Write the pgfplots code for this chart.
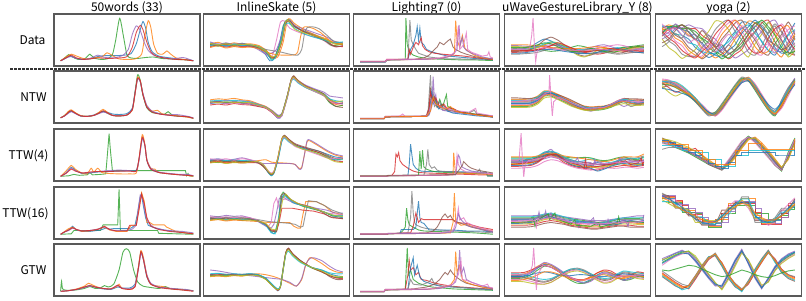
\documentclass[border=0pt]{standalone}
\usepackage{pgfplots}
\pgfplotsset{compat=1.18}
\usepackage{pgfplotstable}
\usepackage{fontspec}
\setmainfont{Noto Sans CJK JP}
\definecolor{tb}{HTML}{1F77B4}
\definecolor{to}{HTML}{FF7F0E}
\definecolor{tg}{HTML}{2CA02C}
\definecolor{tr}{HTML}{D62728}
\definecolor{tp}{HTML}{9467BD}
\definecolor{tbr}{HTML}{8C564B}
\definecolor{tk}{HTML}{E377C2}
\definecolor{tgr}{HTML}{7F7F7F}
\definecolor{tol}{HTML}{BCBD22}
\definecolor{tc}{HTML}{17BECF}
\pgfplotscreateplotcyclelist{tab}{{tb},{to},{tg},{tr},{tp},{tbr},{tk},{tgr},{tol},{tc}}
\pgfplotsset{panel/.style={width=146pt,height=52pt,scale only axis,anchor=north west,
  xmin=-5,xmax=105,ymin=-5,ymax=105,xtick=\empty,ytick=\empty,
  axis line style={black!65,line width=1.3pt},
  cycle list name=tab,
  every axis plot/.append style={line width=1.4pt,opacity=0.8,mark=none}},
  sm/.style={every axis plot/.append style={smooth,tension=0.4}},
  thin/.style={every axis plot/.append style={line width=0.9pt}},
  dense/.style={every axis plot/.append style={line width=1.3pt,opacity=0.8}}}

% ---------- uWaveGestureLibrary_Y tables ----------
\pgfplotstableread[header=false,row sep=\\]{
x 0 5 10 15 20 25 30 35 40 45 50 55 60 65 70 75 80 85 90 95 100\\
a 30 31 32 36 45 52 48 40 32 25 22 24 26 30 28 26 30 34 36 33 34\\
b 28 28 29 30 34 40 44 42 36 30 26 25 28 32 34 30 27 28 30 32 30\\
c 34 34 33 32 30 28 26 27 30 34 38 36 32 28 26 28 32 35 36 38 40\\
d 24 24 25 27 30 34 38 40 38 33 28 24 22 20 22 26 28 26 24 25 26\\
e 38 38 37 36 36 38 40 38 34 30 28 30 34 38 40 36 32 30 32 36 38\\
f 26 26 27 30 38 50 56 50 40 30 20 16 18 24 28 26 22 24 28 30 28\\
g 32 32 33 34 35 36 34 30 28 26 24 26 30 34 36 38 40 38 34 32 33\\
h 20 20 21 22 24 28 32 34 32 28 24 22 20 22 24 22 20 21 23 24 22\\
i 36 36 35 34 34 40 46 44 38 28 18 14 20 28 32 30 26 28 32 34 36\\
j 29 29 30 32 36 42 46 42 36 32 30 30 31 30 28 30 34 30 28 30 31\\
k 22 22 23 25 28 30 30 28 26 24 22 21 22 24 27 30 32 30 26 24 24\\
l 40 40 40 39 38 36 34 33 32 32 32 33 35 36 34 32 30 32 34 36 37\\
m 33 33 34 36 40 44 42 36 30 26 26 28 32 30 26 24 26 30 34 36 35\\
n 27 27 28 28 29 32 38 44 40 34 28 26 26 28 30 32 30 28 27 28 29\\
}\rawUa
\pgfplotstabletranspose[colnames from=0,input colnames to=]{\tUa}{\rawUa}
\pgfplotstableread[header=false,row sep=\\]{
x 0 5 10 15 20 25 30 35 40 45 50 55 60 65 70 75 80 85 90 95 100\\
a 37 37 37 38 45 58 57 51 44 37 31 27 26 27 28 32 40 44 40 38 39\\
b 45 45 45 46 52 63 62 56 49 42 36 31 29 30 31 35 42 46 44 43 44\\
c 30 30 30 31 38 52 52 46 40 33 27 23 22 22 24 28 35 40 36 34 35\\
d 41 41 41 42 48 60 60 54 47 40 33 28 26 25 27 31 38 42 42 44 42\\
e 33 33 33 34 41 55 54 48 42 34 28 24 20 24 26 30 36 30 36 35 36\\
f 48 48 47 47 50 56 58 55 50 44 37 30 28 29 30 34 41 47 46 46 45\\
g 35 35 35 36 42 54 56 50 43 36 30 26 25 26 28 33 42 46 36 38 40\\
h 39 39 39 40 47 60 59 52 45 38 32 27 25 24 26 30 38 40 30 34 37\\
i 28 28 28 29 35 48 50 45 38 31 26 22 21 23 25 29 33 36 33 32 33\\
j 43 43 43 44 50 62 60 53 46 39 33 29 27 28 29 33 41 45 43 41 42\\
k 36 36 36 37 43 56 58 52 44 36 30 25 23 25 30 34 40 43 38 36 38\\
l 32 32 32 33 39 53 55 50 43 35 28 24 23 25 27 31 37 41 37 35 36\\
}\rawUb
\pgfplotstabletranspose[colnames from=0,input colnames to=]{\tUb}{\rawUb}
\pgfplotstableread[header=false,row sep=\\]{
x 0 5 10 15 20 25 30 35 40 45 50 55 60 65 70 75 80 85 90 95 100\\
a 38 38 38 40 46 54 56 50 42 36 32 30 28 34 30 28 32 36 34 32 34\\
b 30 30 31 33 40 50 52 46 38 30 26 24 26 22 24 28 34 30 28 30 32\\
c 44 44 44 44 46 50 52 50 46 44 44 45 44 40 38 40 44 46 42 40 46\\
d 26 26 27 28 34 44 50 44 34 28 24 22 20 18 22 24 26 28 26 26 28\\
e 34 34 34 36 42 52 62 48 40 34 30 28 30 36 32 30 36 42 38 36 38\\
f 40 40 40 41 44 48 50 48 44 40 36 34 32 30 30 32 36 40 40 38 40\\
g 22 22 23 24 28 36 40 38 32 26 22 20 18 20 24 22 22 24 24 22 24\\
h 36 36 36 38 44 56 58 52 44 38 34 30 28 26 28 32 38 44 42 44 48\\
i 32 32 32 33 38 46 48 44 38 32 28 26 24 24 26 28 30 34 32 30 30\\
j 42 42 42 43 48 56 58 54 46 40 36 38 42 38 36 34 38 40 44 42 44\\
k 28 28 28 30 36 48 54 48 38 30 26 24 22 16 20 26 30 32 30 28 30\\
l 46 46 46 46 48 52 54 52 48 46 44 42 40 38 36 38 42 46 46 46 52\\
}\rawUc
\pgfplotstabletranspose[colnames from=0,input colnames to=]{\tUc}{\rawUc}
\pgfplotstableread[header=false,row sep=\\]{
x 0 5 10 15 20 25 30 35 40 45 50 55 60 65 70 75 80 85 90 95 100\\
a 36 36 36 37 40 44 42 38 36 34 32 30 28 26 28 30 32 34 33 32 34\\
b 30 30 30 31 34 38 40 36 32 28 26 24 22 24 26 26 28 30 30 28 28\\
c 40 40 40 40 42 46 48 44 40 38 36 34 32 30 30 32 36 38 38 38 40\\
d 24 24 24 25 28 32 34 32 28 24 22 20 18 18 20 22 24 24 24 22 22\\
e 44 44 44 44 45 46 46 44 42 40 38 36 34 34 34 36 38 40 42 44 44\\
f 20 20 20 21 24 28 30 28 26 22 20 18 16 16 18 20 22 22 20 20 20\\
g 33 33 33 34 38 42 44 40 35 31 28 27 25 24 25 28 30 32 32 31 31\\
h 38 38 38 38 40 44 46 42 38 36 34 32 32 30 32 34 36 36 36 36 37\\
i 27 27 27 28 31 36 38 34 30 27 24 22 21 21 22 24 26 27 27 26 26\\
j 42 42 42 42 44 48 50 46 42 38 34 30 28 28 30 34 38 40 40 40 40\\
k 28 28 29 30 34 40 42 38 34 30 30 32 30 28 26 24 26 30 34 32 30\\
}\rawUd
\pgfplotstabletranspose[colnames from=0,input colnames to=]{\tUd}{\rawUd}
\pgfplotstableread[header=false,row sep=\\]{
x 0 5 10 15 20 25 30 35 40 45 50 55 60 65 70 75 80 85 90 95 100\\
a 36 36 38 44 54 62 60 52 42 32 26 24 30 40 46 44 36 30 34 40 38\\
b 40 40 42 48 58 64 60 50 40 32 28 28 34 44 48 44 38 34 38 44 42\\
c 32 32 34 40 50 58 56 48 38 28 22 22 28 38 42 40 34 28 30 36 34\\
d 44 44 45 50 56 60 56 48 40 34 30 30 36 44 50 48 40 36 40 46 44\\
e 38 38 40 46 56 66 62 54 44 34 26 22 26 36 44 42 34 28 32 38 40\\
f 34 34 33 30 26 24 28 36 44 50 52 48 40 32 28 30 38 44 42 38 36\\
g 30 30 29 26 22 20 24 32 42 48 50 46 38 30 24 26 34 40 38 34 32\\
h 38 38 36 32 28 26 30 38 46 52 54 50 42 34 30 32 40 46 44 40 38\\
i 26 26 25 22 20 20 24 32 40 46 48 44 36 28 22 24 32 38 36 32 30\\
j 42 42 40 36 32 30 32 38 46 52 52 48 42 36 32 34 42 48 46 44 42\\
k 36 36 37 40 44 46 44 40 38 38 40 40 38 36 36 38 40 42 40 38 38\\
l 28 28 30 34 40 46 46 42 36 30 28 30 34 38 40 36 32 32 36 38 36\\
}\rawUe
\pgfplotstabletranspose[colnames from=0,input colnames to=]{\tUe}{\rawUe}

% ---------- yoga tables ----------
\pgfplotstableread[header=false,row sep=\\]{
x 0 5 10 15 20 25 30 35 40 45 50 55 60 65 70 75 80 85 90 95 100\\
a 80 78 74 60 52 34 24 13 20 30 52 68 88 86 72 46 28 18 42 62 86\\
b 74 82 76 74 60 52 34 24 12 20 30 52 68 90 86 72 46 28 14 42 62\\
c 70 76 82 74 74 60 52 34 24 10 20 30 52 70 86 88 72 46 28 18 38\\
d 58 74 76 82 74 74 60 50 34 24 10 20 30 54 68 86 92 68 50 24 18\\
e 52 60 74 76 82 76 74 60 52 34 24 12 20 30 52 68 86 92 68 50 24\\
f 76 74 60 52 34 24 10 20 30 52 68 86 92 68 50 26 18 42 62 88 62\\
g 70 64 48 38 20 15 16 34 48 72 86 92 68 50 24 18 38 66 84 66 38\\
h 64 48 38 20 15 16 34 48 72 86 92 68 50 24 18 38 66 84 66 38 18\\
i 52 34 24 11 20 30 52 68 90 88 72 46 28 14 42 62 88 62 42 14 28\\
j 66 74 62 60 44 40 26 22 22 36 46 64 74 82 64 48 28 24 36 60 72\\
k 78 78 78 72 68 52 44 26 18 14 28 40 64 78 92 78 60 34 22 26 54\\
l 72 70 54 46 28 18 12 28 38 62 78 92 78 60 36 22 26 54 74 80 50\\
m 64 78 78 82 74 68 54 44 26 18 12 26 38 62 78 92 78 60 34 22 26\\
n 68 54 44 28 18 12 26 38 62 78 92 78 60 34 22 26 54 74 80 50 30\\
o 60 66 84 70 58 62 40 30 44 28 40 58 76 64 80 66 44 30 26 46 70\\
p 44 52 70 82 66 50 70 54 36 40 20 30 44 62 86 74 50 40 30 36 58\\
q 84 70 76 60 44 52 30 44 24 46 62 54 80 70 56 34 42 22 56 72 80\\
r 36 46 64 54 76 60 44 60 38 22 40 26 36 50 66 82 64 80 48 30 44\\
}\rawYa
\pgfplotstabletranspose[colnames from=0,input colnames to=]{\tYa}{\rawYa}
\pgfplotstableread[header=false,row sep=\\]{
x 0 5 10 15 20 25 30 35 40 45 50 55 60 65 70 75 80 85 90 95 100\\
a 82 80 74 66 56 42 26 12 14 30 50 70 88 88 70 48 26 12 34 62 86\\
b 86 84 80 72 60 46 30 16 12 24 44 64 82 92 76 54 32 16 28 56 82\\
c 76 76 70 62 52 40 26 14 18 34 54 74 90 84 64 42 22 10 38 66 88\\
d 80 70 60 64 60 48 32 18 10 24 46 68 86 90 74 52 30 14 30 58 80\\
e 84 82 78 70 58 44 28 14 12 28 48 68 86 86 68 46 28 18 42 68 90\\
f 70 74 72 64 54 42 30 18 16 30 48 66 82 84 68 48 30 20 36 60 78\\
g 88 86 78 68 58 46 34 20 10 22 42 62 80 90 78 56 34 14 26 52 80\\
h 78 82 76 66 54 40 24 10 16 36 56 76 92 86 66 44 24 12 44 70 88\\
i 74 60 52 58 58 46 30 16 14 30 50 70 86 88 72 50 28 16 32 58 84\\
j 82 84 82 74 62 48 32 16 12 26 46 66 84 90 74 52 30 18 40 64 84\\
k 68 66 62 58 52 42 30 18 14 28 46 64 80 84 70 52 34 24 38 58 76\\
l 80 78 72 64 56 44 28 14 12 28 48 68 86 88 70 48 26 14 34 60 84\\
}\rawYb
\pgfplotstabletranspose[colnames from=0,input colnames to=]{\tYb}{\rawYb}
\pgfplotstableread[header=false,row sep=\\]{
x 0 5 10 15 20 25 30 35 40 45 50 55 60 65 70 75 80 85 90 95 100\\
a 80 76 70 64 58 52 44 36 28 22 34 52 72 88 82 68 52 34 18 48 82\\
b 84 80 74 68 64 58 50 40 30 24 28 44 64 82 88 76 60 42 24 40 76\\
c 76 72 66 60 54 46 38 30 24 20 38 58 78 90 78 62 46 28 16 56 86\\
d 82 78 72 66 60 64 50 34 26 24 30 48 68 86 84 72 56 38 22 44 80\\
e 78 74 68 62 56 50 42 34 26 22 36 54 74 88 80 66 50 32 20 50 84\\
f 70 70 66 60 60 56 56 40 40 26 26 48 48 60 60 60 60 60 60 60 78\\
g 86 80 72 64 56 50 42 30 24 18 32 50 70 86 86 70 54 36 18 46 80\\
h 74 72 68 64 58 50 40 32 26 22 40 60 80 88 76 60 44 28 18 52 82\\
i 80 76 70 64 56 48 40 32 26 22 34 50 56 56 56 56 56 50 50 50 80\\
j 62 66 66 62 56 48 40 32 24 18 30 48 68 86 84 70 54 36 20 44 78\\
k 84 82 78 72 66 58 48 38 28 24 30 46 66 84 86 72 56 40 24 42 76\\
l 78 72 72 72 60 60 40 40 30 30 30 60 60 74 74 62 62 62 62 62 84\\
}\rawYc
\pgfplotstabletranspose[colnames from=0,input colnames to=]{\tYc}{\rawYc}
\pgfplotstableread[header=false,row sep=\\]{
x 0 5 10 15 20 25 30 35 40 45 50 55 60 65 70 75 80 85 90 95 100\\
a 88 80 70 60 52 40 28 26 28 40 60 70 74 72 40 32 30 34 48 62 76\\
b 90 86 60 60 44 44 24 24 24 56 56 72 72 72 34 34 34 34 56 56 80\\
c 82 82 74 56 56 36 36 22 22 36 70 70 80 80 44 28 28 40 40 66 66\\
d 86 78 78 64 50 50 30 30 32 44 64 76 76 60 36 36 24 30 54 68 82\\
e 80 72 72 52 52 48 34 20 20 50 50 66 66 66 48 48 36 36 44 58 72\\
f 92 84 64 58 58 36 26 26 30 30 58 58 84 84 30 30 30 40 60 60 78\\
g 84 84 76 66 46 46 32 32 36 48 66 72 72 70 52 26 26 26 50 70 74\\
h 78 70 62 62 56 30 30 34 34 42 62 62 78 64 38 38 30 32 46 56 70\\
i 88 88 68 68 60 52 40 24 24 30 54 74 74 74 60 36 36 28 40 64 80\\
j 74 74 70 54 54 42 42 30 26 46 46 68 80 80 46 30 30 38 52 52 66\\
k 86 80 72 62 48 38 30 28 32 42 58 68 72 70 44 34 30 32 46 60 74\\
l 82 76 66 56 50 44 36 30 30 38 52 64 70 68 50 40 34 36 44 54 68\\
}\rawYd
\pgfplotstabletranspose[colnames from=0,input colnames to=]{\tYd}{\rawYd}
\pgfplotstableread[header=false,row sep=\\]{
x 0 5 10 15 20 25 30 35 40 45 50 55 60 65 70 75 80 85 90 95 100\\
a 70 78 85 90 88 72 54 36 18 14 40 68 92 66 36 12 30 54 70 80 88\\
g 40 30 20 12 14 34 56 76 84 62 36 18 6 24 48 70 90 70 48 36 30\\
b 66 74 82 88 90 76 58 40 22 10 34 62 90 70 40 14 26 50 68 78 86\\
h 44 34 24 16 10 30 52 72 82 66 40 20 8 20 44 66 88 74 52 40 34\\
c 74 80 86 92 84 68 50 32 16 18 44 72 94 62 32 10 34 58 74 84 90\\
i 36 26 16 10 18 38 60 78 80 58 32 14 6 28 52 74 92 68 44 32 26\\
d 60 70 78 84 86 74 56 38 20 12 36 64 88 68 38 16 28 52 66 76 84\\
j 48 38 28 20 16 32 54 74 86 64 38 22 10 22 46 68 86 72 50 40 36\\
e 72 76 82 86 90 80 60 42 24 8 30 58 86 72 44 18 24 48 64 74 82\\
k 38 28 18 8 12 36 58 78 82 60 34 16 4 26 50 72 90 66 46 34 28\\
f 64 72 80 86 84 70 52 34 20 16 42 70 90 64 34 12 32 56 72 82 88\\
l 42 32 22 14 16 36 58 76 84 64 38 20 8 24 46 68 88 70 50 38 32\\
m 50 48 52 56 60 58 52 46 40 36 38 44 50 46 40 36 34 38 44 48 50\\
}\rawYe
\pgfplotstabletranspose[colnames from=0,input colnames to=]{\tYe}{\rawYe}

\begin{document}
\begin{tikzpicture}
\path[use as bounding box] (0pt,0pt) rectangle (806pt,-300pt);
\def\ttl#1#2{\node[anchor=base,font=\fontsize{12}{14}\selectfont] at (#1pt,-11.5pt) {#2};}
\ttl{127}{50words (33)}
\ttl{276.5}{InlineSkate (5)}
\ttl{426.5}{Lighting7 (0)}
\ttl{577.5}{uWaveGestureLibrary\_Y (8)}
\ttl{728.5}{yoga (2)}
\def\rlb#1#2#3{\node[anchor=base,font=\fontsize{12}{14}\selectfont] at (#1pt,-#2pt) {#3};}
\rlb{32.5}{44.5}{Data}
\rlb{33.5}{101.5}{NTW}
\rlb{28.5}{159.5}{TTW(4)}
\rlb{25.5}{217.5}{TTW(16)}
\rlb{33.5}{274.5}{GTW}
\draw[black!80,line width=1.3pt,dash pattern=on 2.5pt off 1.5pt] (10pt,-69pt) -- (806pt,-69pt);

% ================= Column 1: 50words =================
\begin{axis}[panel,sm,at={(54pt,-14pt)}]
\addplot[tg] coordinates {(0,6)(3,12)(6,19)(9,14)(13,9)(18,10)(22,20)(25,12)(30,9)(35,10)(39,19)(41.5,50)(44.5,96)(47.5,55)(50,18)(53,12)(58,11)(64,13)(70,14)(76,11)(82,10)(88,9)(94,8)(100,6)};
\addplot[tb] coordinates {(0,6)(3,10)(7,16)(11,12)(16,9)(22,10)(28,15)(34,17)(42,17)(48,18)(53,21)(57,42)(60,72)(62,89)(64,76)(66,45)(69,25)(74,16)(80,13)(86,11)(92,9)(97,8)(100,6)};
\addplot[to] coordinates {(0,6)(4,14)(8,20)(12,16)(17,11)(22,10)(27,13)(31,14)(35,23)(39,17)(44,10)(50,9)(56,10)(61,20)(63.5,60)(66,91)(68,76)(70,42)(73,22)(77,20)(80,27)(83,20)(87,12)(92,9)(96,8)(100,6)};
\addplot[tp] coordinates {(0,6)(4,12)(8,15)(12,11)(17,9)(22,11)(28,18)(32,14)(37,12)(42,13)(47,18)(51,30)(54,62)(57,80)(60,70)(63,45)(66,28)(70,18)(76,13)(84,10)(92,13)(96,10)(100,6)};
\addplot[tr] coordinates {(0,6)(4,12)(8,18)(12,12)(17,9)(22,10)(28,12)(36,11)(44,12)(50,15)(54,35)(57,66)(60,81)(62,72)(65,45)(68,25)(72,16)(78,12)(86,9)(94,8)(100,6)};
\end{axis}
\begin{axis}[panel,sm,at={(54pt,-71pt)}]
\addplot[tg] coordinates {(0,6)(3,11)(6,19)(8,21)(11,16)(15,10)(20,9)(25,11)(29,16)(32,20)(35,16)(39,11)(44,10)(50,12)(54,24)(56,60)(58,97)(60,86)(62,55)(65,27)(69,17)(74,15)(78,13)(81,19)(84,12)(90,9)(96,8)(100,5)};
\addplot[tb] coordinates {(0,6)(3,10)(6,17)(8,20)(11,16)(15,10)(20,9)(25,12)(29,17)(32,19)(35,18)(39,14)(44,13)(50,15)(54,26)(56,58)(58,90)(60,82)(62,54)(65,28)(69,19)(74,15)(80,12)(86,10)(92,9)(96,8)(100,5)};
\addplot[to] coordinates {(0,6)(3,11)(6,20)(8,23)(11,17)(15,11)(20,9)(25,11)(29,18)(32,24)(35,18)(39,11)(44,10)(50,12)(54,22)(56,55)(58,92)(60,84)(62,56)(65,30)(69,20)(73,22)(76,15)(82,12)(88,10)(94,8)(100,5)};
\addplot[tp] coordinates {(0,6)(3,10)(6,16)(8,19)(11,15)(15,10)(20,9)(25,11)(29,15)(32,18)(35,16)(39,11)(44,10)(50,12)(54,24)(56,57)(58,88)(60,83)(62,58)(65,32)(69,20)(74,15)(80,12)(87,13)(92,11)(96,9)(100,6)};
\addplot[tr] coordinates {(0,6)(3,10)(6,18)(8,21)(11,16)(15,10)(20,9)(25,11)(29,16)(32,21)(35,17)(39,11)(44,10)(50,12)(54,23)(56,57)(58,90)(60,84)(62,55)(65,28)(69,18)(74,14)(80,12)(86,10)(92,9)(96,8)(100,5)};
\end{axis}
\begin{axis}[panel,sm,at={(54pt,-129pt)}]
\addplot[tg,sharp plot] coordinates {(0,5)(6,6)(10,9)(14,7)(20,8)(22,13)(24,8)(30,9)(34,10)(35.5,60)(36.5,95)(37.5,60)(39,17)(60,17)(94,17)(95,6)(96,11)(97,6)(100,5)};
\addplot[tb] coordinates {(0,5)(4,12)(8,24)(11,18)(16,11)(22,12)(28,14)(36,15)(44,16)(52,17)(57,18)(59,40)(61.5,86)(63.5,70)(65,38)(68,20)(74,13)(82,10)(90,8)(100,6)};
\addplot[to] coordinates {(0,5)(4,16)(8,28)(11,20)(16,12)(20,10)(23,22)(25,14)(28,22)(31,13)(36,11)(44,10)(52,10)(57,12)(59,40)(61.5,93)(63.5,72)(65,40)(68,22)(71,20)(74,13)(80,11)(86,9)(92,8)(100,5)};
\addplot[tp] coordinates {(0,5)(4,12)(8,22)(11,17)(16,12)(22,13)(28,15)(36,17)(44,18)(52,17)(57,16)(59,38)(61.5,84)(63.5,70)(65,40)(68,22)(74,14)(82,11)(90,9)(96,9)(100,6)};
\addplot[tr] coordinates {(0,5)(4,11)(8,20)(11,16)(16,12)(22,14)(28,15)(36,15)(44,16)(52,16)(57,16)(59,42)(61.5,88)(63.5,70)(65,38)(68,20)(74,13)(82,10)(90,8)(100,6)};
\end{axis}
\begin{axis}[panel,at={(54pt,-187pt)}]
\addplot[tg] coordinates {(0,5)(8,6)(10,13)(20,13)(30,13)(32,25)(43,25)(43.5,60)(44,100)(44.5,60)(45,13)(60,13)(73,13)(74,7)(100,5)};
\addplot[tb] coordinates {(0,5)(3,10)(6,14)(9,22)(12,14)(16,11)(22,11)(30,14)(34,18)(37,16)(40,17)(50,17)(53,18)(56,24)(58,50)(60,85)(61,90)(62,70)(64,40)(66,24)(72,17)(80,13)(88,10)(100,6)};
\addplot[to] coordinates {(0,5)(3,11)(6,17)(9,20)(12,15)(16,11)(22,12)(28,16)(33,20)(37,14)(42,11)(50,11)(53,24)(57,24)(58,45)(61,93)(63,75)(65,30)(67,30)(70,25)(78,25)(80,20)(86,12)(92,9)(100,6)};
\addplot[tp] coordinates {(0,5)(3,10)(6,13)(9,18)(12,15)(16,12)(22,13)(28,16)(33,21)(36,16)(40,13)(50,13)(54,16)(57,24)(58.5,60)(60,88)(62,78)(64,45)(66,30)(70,20)(78,14)(86,12)(92,11)(100,8)};
\addplot[tr] coordinates {(0,5)(3,10)(6,14)(9,19)(12,15)(16,12)(22,13)(28,15)(33,22)(37,15)(42,12)(50,12)(52,24)(57,24)(59,55)(61,90)(63,70)(65,40)(68,22)(74,15)(82,11)(90,9)(100,6)};
\end{axis}
\begin{axis}[panel,sm,at={(54pt,-244pt)}]
\addplot[tg] coordinates {(0,6)(0.7,26)(1.5,10)(5,7)(12,8)(18,11)(22,15)(26,11)(30,12)(33,17)(36,14)(40,20)(44,50)(47,88)(49.5,95)(52,88)(55,50)(58,25)(62,16)(68,13)(74,11)(79,15)(82,11)(88,9)(94,8)(100,6)};
\addplot[tb] coordinates {(0,5)(5,6)(12,9)(18,14)(22,17)(26,14)(32,10)(38,9)(43,14)(46,12)(52,12)(56,20)(58.5,55)(60.5,88)(62.5,70)(65,35)(68,20)(74,14)(82,11)(90,9)(100,6)};
\addplot[to] coordinates {(0,5)(5,6)(12,10)(18,16)(21,22)(25,17)(30,12)(36,10)(42,14)(44,20)(46,12)(52,9)(56,15)(58.5,55)(60.5,91)(62.5,75)(65,38)(68,20)(71,17)(77,15)(82,11)(90,9)(100,6)};
\addplot[tp] coordinates {(0,5)(5,6)(12,9)(18,13)(22,16)(26,14)(32,11)(38,10)(43,17)(46,12)(52,10)(56,16)(58.5,50)(60.5,84)(62.5,72)(65,40)(68,22)(74,14)(80,12)(88,10)(94,9)(100,6)};
\addplot[tr] coordinates {(0,5)(5,6)(12,9)(18,14)(22,17)(26,14)(32,11)(38,10)(43,18)(46,11)(52,9)(56,14)(58.5,52)(60.5,89)(62.5,70)(65,36)(68,20)(74,13)(82,10)(90,8)(100,5)};
\end{axis}

% ================= Column 2: InlineSkate =================
\begin{axis}[panel,sm,at={(203.5pt,-14pt)}]
\addplot[tk] coordinates {(0,38)(6,42)(12,36)(18,40)(24,37)(30,40)(36,35)(40,28)(44,15)(47,18)(50,50)(53,88)(56,90)(60,75)(68,65)(76,58)(84,52)(90,40)(95,35)(100,38)};
\addplot[tb] coordinates {(0,44)(6,40)(12,38)(18,42)(24,40)(30,36)(36,33)(41,22)(45,6)(48,10)(52,40)(55,80)(58,92)(62,80)(70,70)(78,62)(86,52)(92,45)(100,40)};
\addplot[tg] coordinates {(0,41)(6,37)(12,42)(18,38)(24,43)(30,39)(36,37)(42,25)(46,10)(49,14)(53,45)(56,85)(59,94)(63,82)(70,68)(78,60)(86,50)(92,38)(100,42)};
\addplot[tr] coordinates {(0,36)(6,39)(12,35)(18,38)(24,36)(30,37)(36,35)(42,28)(46,14)(50,16)(54,45)(57,88)(60,90)(65,76)(72,66)(80,58)(87,50)(93,38)(100,36)};
\addplot[to] coordinates {(0,42)(6,45)(12,40)(18,44)(24,41)(30,42)(37,38)(43,26)(47,12)(51,14)(55,45)(58,90)(60,95)(64,84)(72,70)(80,60)(88,52)(94,44)(100,42)};
\addplot[tp] coordinates {(0,46)(6,41)(12,44)(18,40)(24,43)(30,38)(36,30)(42,20)(46,22)(50,30)(54,60)(57,88)(60,92)(64,80)(72,72)(80,64)(88,56)(94,46)(100,44)};
\addplot[tbr] coordinates {(0,40)(6,38)(12,40)(18,37)(24,39)(30,38)(36,34)(42,24)(46,12)(50,16)(54,50)(57,86)(60,90)(64,78)(72,66)(80,56)(88,46)(94,36)(100,38)};
\addplot[to] coordinates {(0,34)(6,38)(12,33)(18,36)(24,34)(30,35)(36,32)(42,25)(48,20)(54,18)(60,18)(64,19)(66,25)(68,55)(70,76)(73,78)(78,74)(84,64)(90,48)(95,42)(100,40)};
\addplot[tgr] coordinates {(0,42)(6,39)(12,43)(18,40)(24,42)(30,39)(36,36)(42,30)(48,27)(54,24)(60,20)(66,18)(69,30)(71,62)(73,76)(77,78)(82,74)(88,60)(93,48)(100,44)};
\addplot[tc] coordinates {(0,38)(6,41)(12,37)(18,41)(24,38)(30,40)(36,36)(42,26)(46,8)(49,12)(53,42)(56,80)(59,86)(63,76)(70,64)(78,56)(86,50)(92,44)(100,46)};
\addplot[tol] coordinates {(0,43)(6,40)(12,42)(18,39)(24,41)(30,40)(36,36)(42,27)(46,15)(50,18)(54,48)(57,90)(60,88)(64,72)(72,64)(80,58)(88,50)(94,41)(100,42)};
\end{axis}
\begin{axis}[panel,sm,at={(203.5pt,-71pt)}]
\addplot[tb] coordinates {(0,36)(6,38)(12,36)(18,39)(24,37)(30,35)(36,31)(42,27)(47,17)(51,5)(54,10)(58,48)(61,84)(63,92)(66,83)(72,72)(80,64)(86,56)(90,46)(95,38)(100,36)};
\addplot[to] coordinates {(0,44)(6,46)(12,45)(18,47)(24,44)(30,42)(36,36)(42,30)(47,20)(51,9)(54,13)(58,50)(61,86)(63,94)(66,86)(72,74)(80,62)(86,52)(90,40)(95,34)(100,32)};
\addplot[tg] coordinates {(0,39)(6,41)(12,38)(18,40)(24,38)(30,37)(36,33)(42,28)(47,19)(51,10)(54,14)(58,52)(61,84)(63,91)(66,82)(72,70)(80,60)(86,52)(90,38)(95,30)(100,33)};
\addplot[tr] coordinates {(0,33)(6,35)(12,33)(18,36)(24,34)(30,33)(36,30)(42,26)(47,16)(51,7)(54,11)(58,49)(61,85)(63,93)(66,84)(72,73)(80,63)(86,55)(90,44)(95,36)(100,38)};
\addplot[tp] coordinates {(0,42)(6,40)(12,43)(18,41)(24,42)(30,40)(36,35)(42,29)(47,21)(51,12)(54,15)(58,52)(61,86)(63,92)(66,85)(72,75)(80,66)(86,60)(90,52)(95,50)(100,48)};
\addplot[tbr] coordinates {(0,38)(6,40)(12,37)(18,39)(24,37)(30,36)(36,32)(42,27)(47,18)(51,9)(54,13)(58,51)(61,87)(63,95)(66,85)(72,73)(80,64)(86,56)(90,40)(95,30)(100,28)};
\addplot[tc] coordinates {(0,41)(6,43)(12,41)(18,43)(24,41)(30,39)(36,34)(42,28)(47,18)(51,8)(54,12)(58,48)(61,82)(63,88)(66,80)(72,70)(80,62)(86,54)(90,46)(95,42)(100,40)};
\addplot[tk] coordinates {(0,37)(6,39)(12,36)(18,38)(24,35)(30,36)(36,32)(42,27)(47,17)(51,6)(54,10)(58,47)(61,83)(63,90)(66,82)(72,71)(80,60)(86,52)(90,42)(95,36)(100,35)};
\addplot[tol] coordinates {(0,40)(6,38)(12,40)(18,38)(24,39)(30,38)(36,33)(42,28)(47,19)(51,9)(54,13)(58,50)(61,85)(63,92)(66,84)(72,72)(80,63)(86,54)(90,44)(95,40)(100,42)};
\end{axis}
\begin{axis}[panel,sm,at={(203.5pt,-129pt)}]
\addplot[tb] coordinates {(0,38)(6,40)(12,37)(18,39)(24,36)(30,37)(36,35)(40,28)(44,12)(46,7)(48,12)(51,40)(54,80)(56,90)(59,82)(64,72)(70,66)(76,62)(82,58)(88,52)(94,46)(100,44)};
\addplot[to] coordinates {(0,35)(6,37)(12,34)(18,36)(24,34)(30,36)(36,38)(42,40)(46,35)(50,34)(56,33)(61,32)(64,30)(67,22)(69,24)(71,50)(73,78)(75,80)(80,72)(88,58)(94,50)(100,46)};
\addplot[tg] coordinates {(0,36)(6,34)(12,37)(18,35)(24,37)(30,36)(36,34)(40,26)(44,14)(46,10)(48,14)(51,42)(54,82)(56,88)(59,80)(64,70)(70,64)(76,60)(82,55)(88,48)(94,40)(100,42)};
\addplot[tr] coordinates {(0,34)(6,36)(12,33)(18,35)(24,33)(30,34)(36,33)(40,26)(44,13)(46,9)(48,13)(51,44)(54,84)(56,91)(59,84)(64,72)(70,66)(76,60)(82,55)(88,46)(94,38)(100,36)};
\addplot[tp] coordinates {(0,40)(6,42)(12,39)(18,41)(24,44)(30,40)(36,33)(42,32)(48,32)(54,32)(60,32)(64,30)(67,20)(69,22)(71,50)(73,80)(75,82)(80,74)(88,60)(94,52)(100,48)};
\addplot[tc] coordinates {(0,39)(6,41)(12,38)(18,40)(24,38)(30,39)(36,36)(40,29)(44,12)(46,6)(48,11)(51,38)(54,78)(56,86)(59,78)(64,70)(70,64)(76,58)(82,52)(88,45)(94,40)(100,40)};
\addplot[tbr] coordinates {(0,37)(6,39)(12,36)(18,38)(24,36)(30,37)(36,34)(40,27)(44,13)(46,8)(48,12)(51,42)(54,84)(56,92)(59,84)(64,74)(70,68)(76,63)(82,58)(88,50)(94,43)(100,42)};
\addplot[tk] coordinates {(0,42)(6,40)(12,42)(18,39)(24,42)(30,40)(36,36)(40,30)(44,16)(46,12)(48,16)(51,44)(54,82)(56,88)(59,80)(64,68)(70,62)(76,56)(82,50)(88,44)(94,42)(100,44)};
\addplot[tol] coordinates {(0,33)(6,35)(12,32)(18,34)(24,33)(30,35)(36,36)(40,30)(44,15)(46,10)(48,14)(51,45)(54,85)(56,90)(59,82)(64,70)(70,62)(76,58)(82,52)(88,44)(94,36)(100,34)};
\end{axis}
\begin{axis}[panel,at={(203.5pt,-187pt)}]
\addplot[tb] coordinates {(0,38)(6,40)(12,37)(18,39)(24,37)(30,36)(36,33)(42,24)(46,10)(48,6)(50,12)(52,40)(54,80)(56,90)(58,84)(62,72)(70,66)(78,60)(86,52)(92,44)(100,40)};
\addplot[to] coordinates {(0,34)(6,36)(12,33)(18,35)(24,34)(30,33)(36,32)(44,30)(52,30)(60,30)(63,22)(66,18)(68,18)(70,48)(72,74)(80,74)(86,66)(92,52)(100,46)};
\addplot[tg] coordinates {(0,40)(6,38)(12,41)(18,39)(24,40)(30,38)(36,34)(42,26)(46,12)(49,10)(52,42)(53,85)(55,94)(58,86)(62,74)(70,64)(78,58)(86,52)(92,44)(100,44)};
\addplot[tr] coordinates {(0,36)(6,38)(12,35)(18,37)(24,35)(30,36)(36,33)(42,26)(46,14)(50,12)(52,30)(54,60)(62,60)(66,58)(70,56)(78,54)(86,48)(92,40)(100,38)};
\addplot[tp] coordinates {(0,44)(6,42)(12,45)(18,43)(24,44)(30,40)(36,32)(42,22)(46,18)(48,26)(50,50)(52,80)(54,86)(58,78)(64,70)(72,66)(80,60)(88,56)(94,50)(100,50)};
\addplot[tgr] coordinates {(0,40)(6,42)(12,40)(18,42)(24,40)(30,39)(36,36)(44,32)(52,30)(60,28)(64,26)(68,20)(70,22)(72,50)(74,76)(80,74)(86,66)(92,56)(100,48)};
\addplot[tk] coordinates {(0,42)(6,40)(12,42)(18,40)(24,42)(30,40)(36,35)(40,28)(44,22)(46,30)(48,70)(50,82)(52,60)(54,78)(58,80)(64,72)(72,66)(80,58)(88,50)(100,46)};
\addplot[tc] coordinates {(0,37)(6,39)(12,36)(18,38)(24,36)(30,37)(36,34)(42,24)(46,8)(49,6)(51,30)(53,72)(55,88)(58,82)(64,70)(72,64)(80,58)(88,50)(94,44)(100,44)};
\addplot[tbr] coordinates {(0,39)(6,37)(12,39)(18,36)(24,38)(30,37)(36,34)(42,26)(46,12)(50,10)(52,40)(54,88)(56,92)(60,80)(66,70)(74,64)(82,56)(90,42)(100,38)};
\addplot[tol] coordinates {(0,35)(6,37)(12,35)(18,37)(24,35)(30,35)(36,33)(42,28)(46,16)(50,14)(52,40)(55,82)(57,90)(61,78)(68,68)(76,62)(84,54)(92,46)(100,42)};
\end{axis}
\begin{axis}[panel,sm,at={(203.5pt,-244pt)}]
\addplot[tb] coordinates {(0,40)(6,42)(12,40)(18,41)(24,40)(30,42)(36,40)(42,32)(47,18)(51,6)(53,14)(55,50)(57,85)(59,94)(62,84)(68,70)(76,56)(84,50)(90,42)(95,38)(100,36)};
\addplot[to] coordinates {(0,36)(6,37)(12,36)(18,38)(24,37)(30,40)(36,42)(42,40)(48,36)(54,30)(60,22)(65,16)(69,30)(72,60)(75,76)(78,74)(84,64)(90,52)(95,46)(100,44)};
\addplot[tg] coordinates {(0,38)(6,39)(12,38)(18,40)(24,39)(30,40)(36,38)(42,30)(47,16)(51,8)(53,16)(55,52)(57,86)(59,95)(62,84)(68,68)(76,55)(84,46)(90,38)(95,34)(100,34)};
\addplot[tr] coordinates {(0,40)(6,40)(12,41)(18,40)(24,41)(30,41)(36,39)(42,31)(47,17)(51,7)(53,15)(55,51)(57,86)(59,96)(62,85)(68,70)(76,56)(84,46)(90,38)(95,33)(100,32)};
\addplot[tp] coordinates {(0,50)(6,48)(12,45)(18,42)(24,40)(30,38)(36,36)(42,34)(48,32)(54,30)(60,24)(65,16)(69,32)(72,62)(75,74)(78,76)(84,70)(90,58)(95,50)(100,46)};
\addplot[tbr] coordinates {(0,39)(6,39)(12,40)(18,39)(24,40)(30,41)(36,40)(42,32)(47,18)(51,9)(53,16)(55,53)(57,88)(59,96)(62,85)(68,70)(76,56)(84,48)(90,36)(95,30)(100,30)};
\addplot[tc] coordinates {(0,42)(6,43)(12,41)(18,42)(24,41)(30,42)(36,40)(42,33)(47,19)(51,10)(53,17)(55,50)(57,82)(59,90)(62,80)(68,66)(76,56)(84,50)(90,44)(95,42)(100,42)};
\addplot[tol] coordinates {(0,37)(6,38)(12,37)(18,39)(24,38)(30,39)(36,38)(42,30)(47,16)(51,8)(53,15)(55,50)(57,84)(59,93)(62,82)(68,68)(76,56)(84,48)(90,40)(95,36)(100,36)};
\end{axis}

% ================= Column 3: Lighting7 =================
\begin{axis}[panel,thin,at={(353.5pt,-14pt)}]
\addplot[tg] coordinates {(0,4)(19,4)(20,8)(30,9)(34,9)(34.5,96)(35.5,40)(37,25)(40,18)(44,14)(48,12)(55,10)(65,9)(75,8)(85,8)(95,7)(100,7)};
\addplot[tgr] coordinates {(0,4)(19,4)(20,8)(30,8)(36,9)(37.5,92)(38.5,50)(40,40)(42,30)(44,22)(48,18)(52,14)(58,12)(65,10)(75,10)(85,9)(95,10)(100,8)};
\addplot[tb] coordinates {(0,3)(19,3)(20,8)(36,9)(38,30)(40,40)(42,60)(43,78)(44,50)(45,75)(46,45)(48,40)(50,30)(54,25)(60,20)(66,16)(74,14)(82,12)(90,10)(100,8)};
\addplot[tr] coordinates {(0,4)(19,4)(20,9)(34,9)(36,10)(37,30)(38,20)(40,35)(42,45)(44,40)(46,55)(47,38)(49,30)(52,25)(56,22)(62,20)(70,18)(78,16)(86,13)(94,10)(100,9)};
\addplot[tbr] coordinates {(0,5)(19,5)(20,8)(40,9)(48,12)(52,18)(56,30)(58,35)(60,45)(63,40)(66,48)(68,52)(70,35)(72,30)(76,24)(80,20)(86,15)(92,12)(100,10)};
\addplot[to] coordinates {(0,4)(19,4)(20,8)(45,9)(55,10)(62,12)(68,16)(71,22)(72,91)(73,50)(75,35)(77,60)(79,32)(82,25)(86,18)(90,14)(95,11)(100,9)};
\addplot[tp] coordinates {(0,4)(19,4)(20,8)(50,9)(60,11)(66,14)(70,20)(73,30)(74.5,82)(75.5,40)(77,55)(78,35)(80,28)(84,22)(88,18)(92,14)(96,12)(100,10)};
\addplot[tk] coordinates {(0,5)(19,5)(20,9)(50,10)(60,12)(68,18)(72,25)(74,80)(75,30)(78,40)(80,65)(81,30)(84,24)(88,20)(92,16)(96,18)(97,25)(98,14)(100,12)};
\end{axis}
\begin{axis}[panel,thin,at={(353.5pt,-71pt)}]
\addplot[tgr] coordinates {(0,4)(18,4)(19,8)(49,9)(51,10)(52,55)(53,96)(54,40)(55,60)(56,30)(58,35)(60,25)(64,22)(68,28)(70,20)(76,18)(82,16)(86,22)(88,14)(94,12)(100,8)};
\addplot[tp] coordinates {(0,4)(18,4)(19,8)(50,9)(52,12)(54,30)(55,93)(56,45)(57,55)(58,30)(60,40)(62,22)(66,20)(70,18)(76,16)(82,14)(88,12)(94,10)(100,8)};
\addplot[tbr] coordinates {(0,5)(18,5)(19,9)(49,10)(50,12)(51,20)(52,30)(53,70)(54,35)(56,50)(58,28)(62,35)(66,22)(72,20)(78,16)(84,15)(90,13)(96,11)(100,10)};
\addplot[tg] coordinates {(0,4)(18,4)(19,8)(50,9)(52,20)(54,50)(56,40)(58,30)(60,45)(62,28)(65,55)(66,30)(70,24)(76,18)(82,16)(88,13)(94,11)(100,8)};
\addplot[tb] coordinates {(0,4)(18,4)(19,8)(50,9)(52,15)(54,60)(55,35)(57,45)(59,25)(62,30)(66,20)(70,16)(76,14)(82,12)(88,10)(94,9)(100,7)};
\addplot[tr] coordinates {(0,4)(18,4)(19,8)(50,9)(52,25)(53,60)(55,40)(57,48)(60,28)(63,35)(66,24)(70,26)(75,18)(80,16)(86,13)(92,11)(100,8)};
\addplot[tk] coordinates {(0,5)(18,5)(19,9)(30,10)(32,14)(34,9)(50,10)(52,18)(54,45)(56,35)(60,30)(65,26)(70,22)(76,20)(82,18)(87,26)(88,16)(94,13)(100,10)};
\addplot[to] coordinates {(0,4)(18,4)(19,8)(50,9)(53,20)(55,50)(57,36)(60,30)(64,24)(68,30)(72,20)(78,16)(84,14)(90,11)(100,8)};
\end{axis}
\begin{axis}[panel,thin,at={(353.5pt,-129pt)}]
\addplot[tr] coordinates {(0,5)(20,5)(21,6)(24,7)(26,15)(27,52)(28,46)(29,55)(30,38)(32,30)(34,26)(36,22)(38,19)(40,16)(44,13)(50,12)(60,11)(70,10)(80,9)(90,8)(100,8)};
\addplot[tb] coordinates {(0,5)(20,5)(21,6)(36,7)(37,30)(38,73)(39,50)(40,30)(42,22)(44,18)(46,16)(50,15)(60,15)(70,15)(80,14)(90,14)(95,14)(96,6)(100,6)};
\addplot[tg] coordinates {(0,5)(20,5)(21,6)(44,7)(45,58)(46,20)(47,60)(48,25)(50,20)(54,16)(58,14)(66,13)(76,12)(86,11)(95,11)(96,6)(100,6)};
\addplot[tgr] coordinates {(0,5)(20,5)(21,6)(48,7)(50,30)(51,62)(52,30)(54,22)(56,25)(58,18)(60,16)(70,14)(80,13)(88,13)(90,20)(91,13)(95,13)(96,6)(100,6)};
\addplot[to] coordinates {(0,5)(20,5)(21,6)(60,7)(70,8)(70.5,55)(71.5,20)(72,12)(80,11)(90,10)(100,9)};
\addplot[tp] coordinates {(0,5)(20,5)(21,6)(60,7)(72,8)(73,30)(74,50)(75,45)(76,30)(77,24)(80,20)(84,16)(88,14)(92,12)(96,12)(100,10)};
\addplot[tk] coordinates {(0,5)(20,5)(21,6)(60,7)(72,10)(73,50)(74,30)(76,20)(80,14)(90,12)(100,10)};
\addplot[tbr] coordinates {(0,6)(20,6)(21,7)(60,8)(72,9)(75,20)(77,28)(78,36)(80,30)(82,25)(84,22)(86,20)(88,18)(92,16)(96,14)(100,12)};
\end{axis}
\begin{axis}[panel,thin,at={(353.5pt,-187pt)}]
\addplot[tg] coordinates {(0,5)(20,5)(21,6)(30,7)(32,12)(34,20)(35,60)(36,35)(37,25)(40,20)(44,14)(48,12)(56,11)(66,10)(76,9)(86,8)(96,6)(100,5)};
\addplot[tgr] coordinates {(0,5)(20,5)(21,6)(36,8)(38,40)(39,96)(40,50)(41,30)(42,25)(46,20)(50,17)(60,14)(70,12)(80,11)(90,10)(100,8)};
\addplot[tb] coordinates {(0,5)(20,5)(21,6)(30,7)(31,15)(40,15)(42,20)(43,50)(44,75)(45,40)(46,30)(48,28)(52,14)(70,14)(80,12)(92,12)(100,10)};
\addplot[tr] coordinates {(0,5)(20,5)(21,6)(38,8)(40,22)(42,50)(44,30)(46,38)(48,36)(60,36)(70,36)(72,30)(80,28)(90,20)(100,15)};
\addplot[tbr] coordinates {(0,6)(20,6)(21,7)(50,8)(55,12)(58,20)(60,30)(62,42)(64,48)(66,40)(68,45)(70,35)(74,30)(78,26)(84,20)(90,16)(96,12)(100,10)};
\addplot[to] coordinates {(0,5)(20,5)(21,6)(60,7)(68,8)(70,30)(71,92)(72,30)(74,28)(76,24)(80,26)(86,20)(92,16)(100,12)};
\addplot[tk] coordinates {(0,6)(20,6)(21,7)(60,8)(70,12)(73,40)(74,60)(75,35)(78,40)(80,30)(82,28)(86,22)(92,18)(96,15)(100,12)};
\addplot[tp] coordinates {(0,5)(20,5)(21,6)(60,7)(70,10)(72,20)(74,48)(76,36)(78,30)(82,22)(88,18)(94,14)(100,10)};
\end{axis}
\begin{axis}[panel,thin,at={(353.5pt,-244pt)}]
\addplot[tg] coordinates {(0,4)(18,4)(19,8)(34,9)(35.5,97)(36.5,40)(38,50)(40,30)(44,22)(48,18)(54,14)(62,12)(70,10)(80,9)(90,8)(100,7)};
\addplot[tr] coordinates {(0,4)(18,4)(19,8)(34,9)(36,40)(37,70)(38,50)(40,55)(42,40)(44,45)(46,30)(50,28)(54,24)(60,20)(68,16)(76,14)(86,12)(96,10)(100,9)};
\addplot[tb] coordinates {(0,4)(18,4)(19,8)(36,9)(38,55)(40,76)(41,40)(43,60)(45,35)(48,26)(54,20)(60,16)(70,14)(80,12)(90,10)(100,8)};
\addplot[tgr] coordinates {(0,4)(18,4)(19,8)(36,9)(38,30)(40,20)(46,18)(52,25)(54,32)(56,20)(62,16)(70,14)(80,12)(90,10)(100,9)};
\addplot[tbr] coordinates {(0,5)(18,5)(19,9)(40,10)(50,14)(56,20)(60,30)(62,38)(64,45)(66,40)(68,50)(70,42)(72,36)(76,28)(80,22)(86,18)(92,14)(100,11)};
\addplot[to] coordinates {(0,4)(18,4)(19,8)(50,9)(60,12)(68,18)(71,30)(72,89)(73,45)(75,60)(77,30)(80,24)(86,18)(92,14)(100,10)};
\addplot[tp] coordinates {(0,4)(18,4)(19,8)(50,9)(60,11)(68,16)(72,25)(74,50)(75,92)(76,40)(78,55)(80,30)(84,24)(90,18)(96,14)(100,10)};
\addplot[tk] coordinates {(0,5)(18,5)(19,9)(50,10)(62,14)(70,20)(74,40)(76,70)(77,30)(80,28)(84,24)(88,20)(92,16)(96,20)(97,14)(100,12)};
\end{axis}

% ================= Column 4: uWaveGestureLibrary_Y =================
\begin{axis}[panel,sm,dense,at={(504.5pt,-14pt)}]
\pgfplotsinvokeforeach{a,b,c,d,e,f,g,h,i,j,k,l,m,n}{\addplot table[x=x,y=#1]{\tUa};}
\addplot[tk,sharp plot,line width=0.9pt] coordinates {(0,30)(10,30)(14,32)(15.5,60)(16.5,96)(17.5,40)(18.5,4)(19.5,25)(21,32)(26,34)(35,30)(50,28)(65,30)(80,28)(100,30)};
\end{axis}
\begin{axis}[panel,sm,dense,at={(504.5pt,-71pt)}]
\pgfplotsinvokeforeach{a,b,c,d,e,f,g,h,i,j,k,l}{\addplot table[x=x,y=#1]{\tUb};}
\addplot[tk,sharp plot,line width=0.9pt] coordinates {(0,40)(20,45)(26,58)(28.5,60)(29,96)(30,50)(31,10)(32,40)(36,50)(45,38)(56,26)(70,28)(81,42)(100,40)};
\end{axis}
\begin{axis}[panel,sm,dense,at={(504.5pt,-129pt)}]
\pgfplotsinvokeforeach{a,b,c,d,e,f,g,h,i,j,k,l}{\addplot table[x=x,y=#1]{\tUc};}
\addplot[tp,sharp plot] coordinates {(0,34)(20,38)(30,46)(40,40)(48,36)(50,44)(51,36)(60,34)(62,28)(63,40)(64,30)(75,32)(80,36)(82,44)(83,34)(100,38)};
\addplot[tr,sharp plot] coordinates {(0,30)(20,36)(28,50)(34,52)(42,36)(52,28)(55,22)(56,40)(57,24)(66,26)(78,32)(86,38)(90,30)(96,34)(98,44)(99,30)(100,36)};
\addplot[tk,sharp plot,line width=0.9pt] coordinates {(0,38)(5,38)(6,40)(7.5,96)(8.5,40)(9.5,4)(10.5,30)(13,38)(20,42)(30,48)(45,34)(60,30)(80,34)(100,36)};
\end{axis}
\begin{axis}[panel,dense,at={(504.5pt,-187pt)}]
\pgfplotsinvokeforeach{a,b,c,d,e,f,g,h,i,j,k}{\addplot table[x=x,y=#1]{\tUd};}
\addplot[tp] coordinates {(0,34)(18,36)(20,40)(21,52)(22,38)(25,44)(26,54)(27,40)(30,50)(31,38)(36,38)(44,30)(50,28)(51,20)(52,30)(60,34)(62,40)(63,28)(72,26)(73,36)(74,24)(86,36)(88,22)(89,34)(95,30)(99,34)(100,46)};
\addplot[tg] coordinates {(0,30)(15,32)(17,36)(18,22)(19,34)(28,48)(29,36)(33,50)(34,38)(45,26)(48,36)(49,24)(60,22)(66,30)(67,20)(80,30)(81,42)(82,30)(92,32)(100,30)};
\addplot[tk] coordinates {(0,32)(17,34)(18,34)(19,20)(20,36)(30,40)(50,28)(70,28)(100,32)};
\end{axis}
\begin{axis}[panel,sm,dense,at={(504.5pt,-244pt)}]
\pgfplotsinvokeforeach{a,b,c,d,e,f,g,h,i,j,k,l}{\addplot table[x=x,y=#1]{\tUe};}
\addplot[tk,sharp plot,line width=0.9pt] coordinates {(0,40)(14,42)(16,60)(17,97)(18,50)(19,8)(20,40)(24,60)(30,56)(40,40)(50,28)(60,30)(70,44)(80,36)(100,40)};
\end{axis}

% ================= Column 5: yoga =================
\begin{axis}[panel,sm,dense,at={(655.5pt,-14pt)}]
\pgfplotsinvokeforeach{a,b,c,d,e,f,g,h,i,j,k,l,m,n,o,p,q,r}{\addplot table[x=x,y=#1]{\tYa};}
\end{axis}
\begin{axis}[panel,sm,dense,at={(655.5pt,-71pt)}]
\pgfplotsinvokeforeach{a,b,c,d,e,f,g,h,i,j,k,l}{\addplot table[x=x,y=#1]{\tYb};}
\end{axis}
\begin{axis}[panel,dense,at={(655.5pt,-129pt)}]
\pgfplotsinvokeforeach{a,b,c,d,e,g,h,j,k}{\addplot table[x=x,y=#1]{\tYc};}
\pgfplotsinvokeforeach{f,i,l}{\addplot+[const plot] table[x=x,y=#1]{\tYc};}
\end{axis}
\begin{axis}[panel,dense,at={(655.5pt,-187pt)}]
\pgfplotsinvokeforeach{a,c,e,g,i}{\addplot+[const plot] table[x=x,y=#1]{\tYd};}
\pgfplotsinvokeforeach{b,d,f,h,j,k,l}{\addplot table[x=x,y=#1]{\tYd};}
\end{axis}
\begin{axis}[panel,dense,at={(655.5pt,-244pt)}]
\pgfplotsinvokeforeach{a,g,b,h,c,i,d,j,e,k,f,l,m}{\addplot table[x=x,y=#1]{\tYe};}
\end{axis}
\end{tikzpicture}
\end{document}
